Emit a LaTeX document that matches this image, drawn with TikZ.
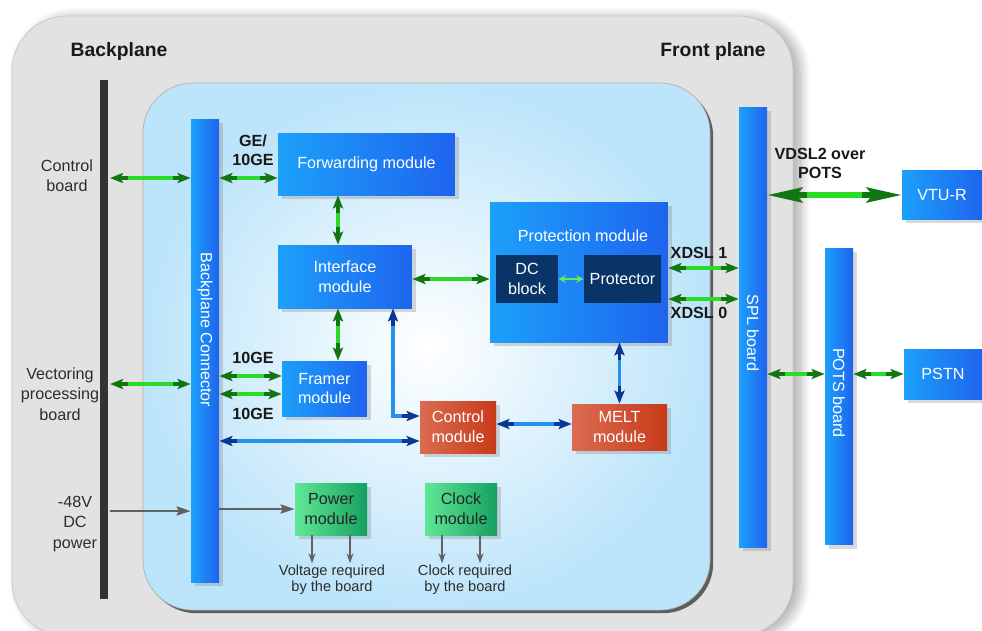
\documentclass[tikz,border=0pt]{standalone}
\usepackage{fontspec}
\setmainfont{Liberation Sans}
\usetikzlibrary{arrows.meta,shadows,shadows.blur}

\definecolor{modL}{RGB}{28,160,250}
\definecolor{modR}{RGB}{30,100,238}
\definecolor{redL}{RGB}{218,108,82}
\definecolor{redR}{RGB}{200,58,24}
\definecolor{grnL}{RGB}{95,232,150}
\definecolor{grnR}{RGB}{22,160,96}
\definecolor{navy}{RGB}{8,52,104}
\definecolor{panel}{RGB}{226,226,226}
\definecolor{skyb}{RGB}{188,228,250}
\definecolor{gDark}{RGB}{18,118,18}
\definecolor{gLite}{RGB}{40,220,40}
\definecolor{bDark}{RGB}{10,55,150}
\definecolor{bLite}{RGB}{35,145,240}
\definecolor{txtgray}{RGB}{45,45,45}

\tikzset{
  module/.style={left color=modL, right color=modR, text=white, align=center, inner sep=1pt,
    font=\fontsize{9.2}{11.3}\selectfont, drop shadow={opacity=0.3, shadow xshift=2pt, shadow yshift=-2pt}},
  redmod/.style={module, left color=redL, right color=redR},
  grnmod/.style={module, left color=grnL, right color=grnR, text=black!85},
  darkmod/.style={fill=navy, text=white, align=center, inner sep=1pt, font=\fontsize{9.2}{11.3}\selectfont},
  bartxt/.style={text=white, rotate=-90, font=\fontsize{9.2}{11.3}\selectfont},
  lbl/.style={text=txtgray, align=center, inner sep=1pt, font=\fontsize{9.2}{11.6}\selectfont},
  smalllbl/.style={text=txtgray, align=center, inner sep=1pt, font=\fontsize{8.3}{9}\selectfont},
  blbl/.style={text=black!90, align=center, inner sep=1pt, font=\bfseries\fontsize{9.2}{10.8}\selectfont},
  hdr/.style={text=black!90, font=\bfseries\fontsize{11}{13}\selectfont},
  garrow/.style={draw=gDark, line width=0.07cm,
    {Stealth[length=0.26cm,width=0.2cm,inset=0.05cm]}-{Stealth[length=0.26cm,width=0.2cm,inset=0.05cm]},
    postaction={draw=gLite, -, shorten <=0.36cm, shorten >=0.36cm}},
  barrow/.style={draw=bDark, line width=0.07cm,
    {Stealth[length=0.26cm,width=0.2cm,inset=0.05cm]}-{Stealth[length=0.26cm,width=0.2cm,inset=0.05cm]},
    postaction={draw=bLite, -, shorten <=0.36cm, shorten >=0.36cm}},
  bigarrow/.style={draw=gDark, line width=0.11cm,
    {Stealth[length=0.7cm,width=0.3cm,inset=0.12cm]}-{Stealth[length=0.7cm,width=0.3cm,inset=0.12cm]},
    postaction={draw=gLite, -, shorten <=0.8cm, shorten >=0.8cm}},
  sgarrow/.style={draw={rgb,255:red,100;green,235;blue,80}, line width=0.05cm,
    {Stealth[length=0.15cm,width=0.15cm]}-{Stealth[length=0.15cm,width=0.15cm]}},
  gyarrow/.style={draw=black!62, line width=0.05cm, -{Stealth[length=0.28cm,width=0.18cm,inset=0.04cm]}},
  dnarrow/.style={draw=black!62, line width=0.05cm, -{Stealth[length=0.2cm,width=0.14cm]}}
}

\begin{document}
\begin{tikzpicture}[x=0.02cm, y=-0.02cm]
\useasboundingbox (0,0) rectangle (982,630);

% planes
\fill[panel, draw=black!22, rounded corners=1.1cm,
  blur shadow={shadow xshift=4pt, shadow yshift=-1pt, shadow blur radius=6pt, shadow blur steps=20, shadow opacity=35}]
  (12,16) rectangle (793,636);
\draw[draw=black!30, inner color=white, outer color=skyb, rounded corners=1cm,
  drop shadow={shadow xshift=1.8pt, shadow yshift=-1.8pt, opacity=0.75, fill=black!80}]
  (143,83) rectangle (710,610);

\node[hdr] (bphdr) at (119,51) {Backplane};
\node[hdr] (fphdr) at (713,51) {Front plane};

% backplane bus
\coordinate (bptop) at (104,80);
\coordinate (bpbot) at (104,599);
\draw[line width=0.15cm, black!80] (bptop) -- (bpbot);

\node[lbl] (lblctrl) at (67,176) {Control\\board};
\node[lbl] (lblvec) at (60,394) {Vectoring\\processing\\board};
\node[lbl, font=\fontsize{9.2}{11.9}\selectfont] (lblpwr) at (75,524) {-48V\\DC\\power};

% boards and modules
\node[module, minimum width=0.56cm, minimum height=9.28cm] (bpconn) at (205,351) {};
\node[bartxt] (bpconntxt) at (205,330) {Backplane Connector};

\node[module, minimum width=3.54cm, minimum height=1.24cm] (fwd) at (366.5,164) {Forwarding module};
\node[module, minimum width=2.68cm, minimum height=1.26cm] (intf) at (345,276.5) {Interface\\module};
\node[module, minimum width=1.7cm, minimum height=1.1cm] (framer) at (324.5,388.5) {Framer\\module};
\node[redmod, minimum width=1.52cm, minimum height=1.04cm] (ctrl) at (458,427) {Control\\module};
\node[redmod, minimum width=1.9cm, minimum height=0.92cm] (melt) at (619.5,427) {MELT\\module};

\node[module, minimum width=3.56cm, minimum height=2.8cm] (prot) at (579,272) {};
\node[text=white, font=\fontsize{9.2}{11.3}\selectfont] (prottxt) at (583,236) {Protection module};
\node[darkmod, minimum width=1.24cm, minimum height=0.96cm] (dcblk) at (527,279) {DC\\block};
\node[darkmod, minimum width=1.54cm, minimum height=0.96cm] (protr) at (622.5,279) {Protector};

\node[grnmod, minimum width=1.44cm, minimum height=1.04cm] (power) at (331,509) {Power\\module};
\node[grnmod, minimum width=1.44cm, minimum height=1.04cm] (clock) at (461,509) {Clock\\module};

\node[module, minimum width=0.56cm, minimum height=8.82cm] (spl) at (753,327.5) {};
\node[bartxt] (spltxt) at (753,333) {SPL board};
\node[module, minimum width=0.56cm, minimum height=5.94cm] (pots) at (839,396.5) {};
\node[bartxt] (potstxt) at (839,393) {POTS board};

\node[module, minimum width=1.6cm, minimum height=0.98cm] (vtur) at (942,195) {VTU-R};
\node[module, minimum width=1.56cm, minimum height=1.0cm] (pstn) at (943,374) {PSTN};

\node[smalllbl] (vreq) at (332,580) {Voltage required\\by the board};
\node[smalllbl] (creq) at (465,580) {Clock required\\by the board};

% link labels
\node[blbl] (gelbl) at (253,150) {GE/\\10GE};
\node[blbl] (tgelbl1) at (253,358) {10GE};
\node[blbl] (tgelbl2) at (253,414) {10GE};
\node[blbl] (xdsl1) at (699,253) {XDSL 1};
\node[blbl] (xdsl0) at (699,313) {XDSL 0};
\node[blbl] (vdsl) at (820,163) {VDSL2 over\\POTS};

% connections
\coordinate (bpctrl) at (110,178);
\coordinate (bpvec) at (110,384);
\coordinate (bppwr) at (110,511);
\coordinate (tge1) at (0,376);
\coordinate (tge2) at (0,394);
\coordinate (yctl) at (0,441);
\coordinate (xel) at (393,416);
\coordinate (ymelt) at (0,424);
\coordinate (x1) at (0,268);
\coordinate (x0) at (0,299);

\draw[garrow] (bpctrl) -- (bpconn.west |- bpctrl);
\draw[garrow] (bpconn.east |- bpctrl) -- (fwd.west |- bpctrl);
\draw[garrow] ([xshift=-0.14cm]intf.north |- fwd.south) -- ([xshift=-0.14cm]intf.north);
\draw[garrow] ([xshift=-0.14cm]intf.south) -- ([xshift=-0.14cm]intf.south |- framer.north);
\draw[garrow] (intf.east |- dcblk) -- (prot.west |- dcblk);
\draw[garrow] (bpvec) -- (bpconn.west |- bpvec);
\draw[garrow] (bpconn.east |- tge1) -- (framer.west |- tge1);
\draw[garrow] (bpconn.east |- tge2) -- (framer.west |- tge2);

\draw[barrow] (bpconn.east |- yctl) -- (ctrl.west |- yctl);
\draw[barrow] (intf.south -| xel) |- (ctrl.west |- xel);
\draw[barrow] (ctrl.east |- ymelt) -- (melt.west |- ymelt);
\draw[barrow] (prot.south -| melt.north) -- (melt.north);

\draw[sgarrow] (dcblk.east) -- (protr.west);
\draw[garrow] (prot.east |- x1) -- (spl.west |- x1);
\draw[garrow] (prot.east |- x0) -- (spl.west |- x0);
\draw[bigarrow] (spl.east |- vtur.west) -- (vtur.west);
\draw[garrow] (spl.east |- pstn) -- (pots.west |- pstn);
\draw[garrow] (pots.east |- pstn) -- (pstn.west);

\draw[gyarrow] (bppwr) -- (bpconn.west |- bppwr);
\draw[gyarrow] (bpconn.east |- power.west) -- (power.west);

\draw[dnarrow] ([xshift=-0.38cm]power.south) -- ([xshift=-0.38cm]power.south |- vreq.north);
\draw[dnarrow] ([xshift=0.38cm]power.south) -- ([xshift=0.38cm]power.south |- vreq.north);
\draw[dnarrow] ([xshift=-0.38cm]clock.south) -- ([xshift=-0.38cm]clock.south |- creq.north);
\draw[dnarrow] ([xshift=0.38cm]clock.south) -- ([xshift=0.38cm]clock.south |- creq.north);
\end{tikzpicture}
\end{document}
